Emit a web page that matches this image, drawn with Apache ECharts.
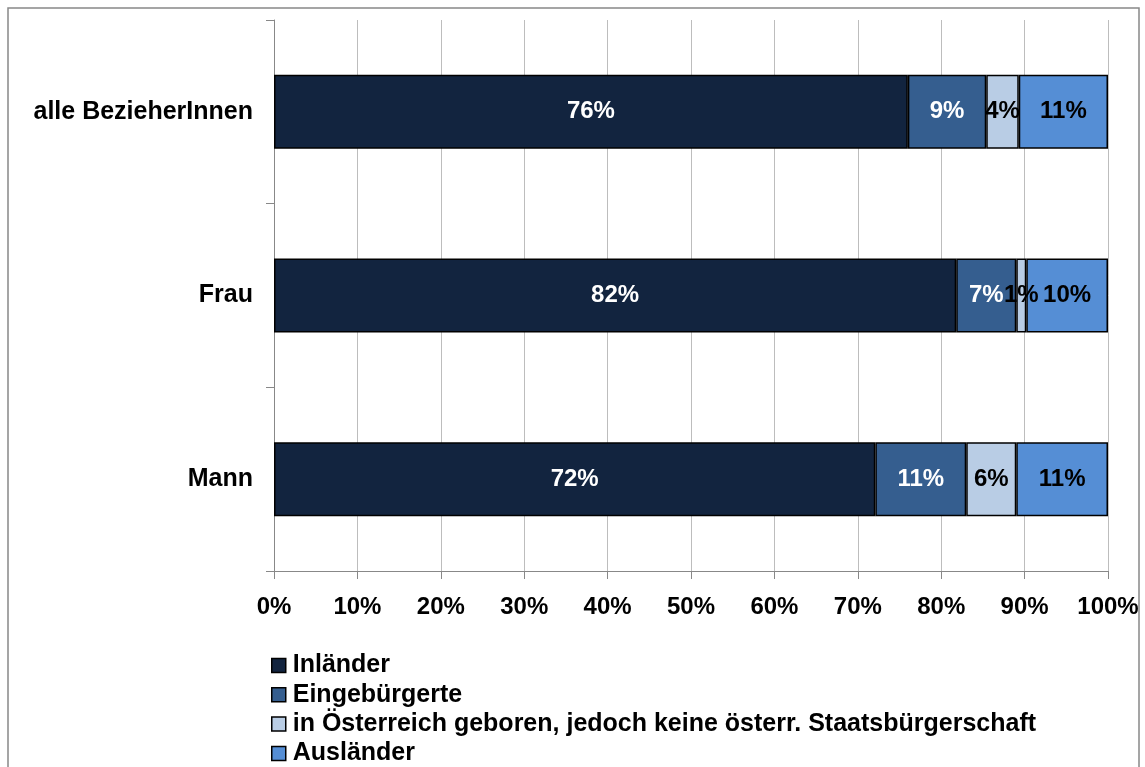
<!DOCTYPE html>
<html>
<head>
<meta charset="utf-8">
<script src="https://cdn.jsdelivr.net/npm/echarts@6/dist/echarts.min.js"></script>
<style>
html,body{margin:0;padding:0;background:#fff;}
#chart{width:1145px;height:767px;}
</style>
</head>
<body>
<div id="chart"></div>
<script>
const categories = ['alle BezieherInnen', 'Frau', 'Mann'];
const seriesNames = ['Inländer', 'Eingebürgerte', 'in Österreich geboren, jedoch keine österr. Staatsbürgerschaft', 'Ausländer'];
const inlaender = [76.0, 81.8, 72.1];
const eingebuergerte = [9.4, 7.2, 10.9];
const inOesterreichGeboren = [3.9, 1.2, 6.0];
const auslaender = [10.7, 9.8, 11.0];
const xTickLabels = ['0%', '10%', '20%', '30%', '40%', '50%', '60%', '70%', '80%', '90%', '100%'];

const colors = ['#12243F', '#355E8F', '#B9CDE5', '#558ED5'];
const labelColors = ['#ffffff', '#ffffff', '#000000', '#000000'];
const FONT = '"Liberation Sans", Arial, sans-serif';
const values = [inlaender, eingebuergerte, inOesterreichGeboren, auslaender];

const chart = echarts.init(document.getElementById('chart'), null, {renderer: 'canvas'});

const series = seriesNames.map((name, i) => ({
  name: name,
  type: 'bar',
  stack: 'total',
  barWidth: 74,
  data: values[i],
  itemStyle: {color: colors[i], borderColor: '#000', borderWidth: 1.5},
  label: {
    show: true,
    position: 'inside',
    formatter: p => Math.round(p.value) + '%',
    color: labelColors[i],
    fontFamily: FONT,
    fontWeight: 'bold',
    fontSize: 24
  },
  emphasis: {disabled: true}
}));

const legends = seriesNames.map((name, i) => ({
  orient: 'vertical',
  left: 266,
  top: 648 + i * 29.3,
  itemWidth: 14,
  itemHeight: 14,
  icon: 'rect',
  data: [name],
  selectedMode: false,
  itemStyle: {borderColor: '#000', borderWidth: 1.5},
  textStyle: {fontFamily: FONT, fontWeight: 'bold', fontSize: 25, color: '#000', lineHeight: 24, padding: [0, 0, 0, 2]}
}));

chart.setOption({
  animation: false,
  backgroundColor: '#fff',
  graphic: [{
    type: 'rect',
    shape: {x: 8, y: 8, width: 1131, height: 780},
    style: {fill: 'none', stroke: '#888', lineWidth: 1.5},
    silent: true
  }],
  grid: {left: 274, right: 37, top: 20, bottom: 196, containLabel: false},
  legend: legends,
  xAxis: {
    type: 'value',
    min: 0,
    max: 100,
    interval: 10,
    axisLine: {show: true, lineStyle: {color: '#888', width: 1}},
    axisTick: {show: true, length: 8, lineStyle: {color: '#888'}},
    splitLine: {show: true, lineStyle: {color: '#bdbdbd', width: 1}},
    axisLabel: {
      margin: 24,
      formatter: v => xTickLabels[Math.round(v / 10)],
      fontFamily: FONT, fontWeight: 'bold', fontSize: 24, color: '#000'
    }
  },
  yAxis: {
    type: 'category',
    inverse: true,
    data: categories,
    axisLine: {show: true, lineStyle: {color: '#888', width: 1}},
    axisTick: {show: true, length: 8, lineStyle: {color: '#888'}},
    axisLabel: {margin: 21, fontFamily: FONT, fontWeight: 'bold', fontSize: 25, color: '#000'}
  },
  series: series
});
</script>
</body>
</html>
